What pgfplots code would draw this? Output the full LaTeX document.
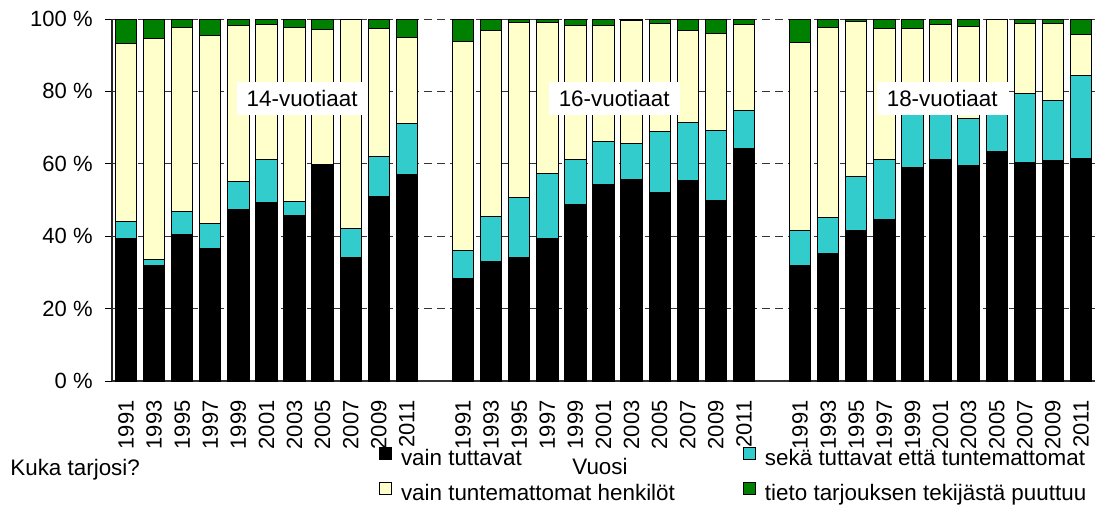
\documentclass[border=0pt]{standalone}
\usepackage{fontspec}
\setmainfont{Liberation Sans}
\usepackage{pgfplots}
\usepackage{pgfplotstable}
\pgfplotsset{compat=1.18}
\definecolor{cCyan}{RGB}{51,204,204}
\definecolor{cYellow}{RGB}{255,255,204}
\definecolor{cGreen}{RGB}{0,128,0}
\newcommand{\lf}{\fontsize{11.2}{13.5}\selectfont}
\newcommand{\tf}{\fontsize{11}{13}\selectfont}

% x: bar slot (groups 14 / 16 / 18 years, one empty slot between groups)
% b = vain tuttavat, c = seka, y = vain tuntemattomat, g = tieto puuttuu (%)
\pgfplotstableread{
x  b    c    y    g
0  39.5 4.6  49.2 6.7
1  32.0 1.6  60.9 5.5
2  40.6 6.1  51.0 2.3
3  36.5 6.9  52.0 4.6
4  47.5 7.6  43.0 1.9
5  49.4 11.7 37.5 1.4
6  45.8 3.9  48.0 2.3
7  59.9 0.0  37.1 3.0
8  34.0 8.2  57.8 0.0
9  51.0 11.0 35.5 2.5
10 57.0 14.1 23.8 5.1
12 28.2 7.8  57.8 6.2
13 33.0 12.5 51.3 3.2
14 34.2 16.6 48.3 0.9
15 39.5 17.7 41.8 1.0
16 48.7 12.4 37.0 1.9
17 54.3 11.9 32.1 1.7
18 55.7 9.9  34.0 0.4
19 52.0 16.8 29.9 1.3
20 55.4 15.9 25.6 3.1
21 49.8 19.5 26.8 3.9
22 64.1 10.7 23.8 1.4
24 31.8 9.8  51.9 6.5
25 35.3 9.9  52.5 2.3
26 41.7 14.7 42.9 0.7
27 44.7 16.6 36.2 2.5
28 58.9 16.1 22.3 2.7
29 61.3 14.2 23.1 1.4
30 59.6 13.0 25.3 2.1
31 63.3 12.3 24.4 0.0
32 60.4 18.9 19.4 1.3
33 61.0 16.4 21.3 1.3
34 61.6 22.8 11.2 4.4
}\data

\begin{document}
\begin{tikzpicture}
\begin{axis}[
  at={(0,0)}, anchor=south west,
  scale only axis, width=491.5pt, height=181pt,
  ybar stacked, bar width=0.76,
  xmin=-0.5, xmax=34.5, ymin=0, ymax=100,
  xtick={0,1,2,3,4,5,6,7,8,9,10,12,13,14,15,16,17,18,19,20,21,22,24,25,26,27,28,29,30,31,32,33,34},
  xticklabels={1991,1993,1995,1997,1999,2001,2003,2005,2007,2009,2011,
               1991,1993,1995,1997,1999,2001,2003,2005,2007,2009,2011,
               1991,1993,1995,1997,1999,2001,2003,2005,2007,2009,2011},
  ytick={0,20,...,100},
  yticklabel={\pgfmathprintnumber{\tick}~\%},
  /pgf/number format/assume math mode=true,
  axis x line*=bottom, axis y line*=left,
  x axis line style={-, gray!40!black, line width=1pt},
  y axis line style={-, gray!30!black, line width=0.6pt},
  tick align=outside, major tick length=3.5pt,
  major x tick style={draw=none},
  major y tick style={black, line width=0.5pt},
  tick label style={font=\tf},
  xticklabel style={rotate=90, anchor=east, inner sep=0pt, xshift=-6pt},
  yticklabel style={inner sep=0pt, xshift=-6pt},
  ymajorgrids, grid style={black!80, line width=0.5pt, dash pattern=on 4pt off 2.5pt},
  every axis plot/.append style={draw=black, line width=0.5pt},
  legend columns=2,
  legend image code/.code={\draw[#1] (0pt,0pt) rectangle (6pt,6pt);},
  legend style={draw=none, fill=none, font=\lf, inner sep=0pt, outer sep=0pt,
    at={(0,0)}, anchor=north west, xshift=133.5pt, yshift=-33pt,
    nodes={inner sep=0pt, text height=8pt, text depth=2.5pt},
    row sep=6pt,
    /tikz/every odd column/.append style={column sep=4.5pt}},
  legend cell align=left,
]
\addplot[fill=black] table[x=x, y=b] {\data};
\addlegendentry{\makebox[171pt][l]{vain tuttavat}}
\addplot[fill=cCyan] table[x=x, y=c] {\data};
\addlegendentry{sekä tuttavat että tuntemattomat}
\addplot[fill=cYellow] table[x=x, y=y] {\data};
\addlegendentry{\makebox[171pt][l]{vain tuntemattomat henkilöt}}
\addplot[fill=cGreen] table[x=x, y=g] {\data};
\addlegendentry{tieto tarjouksen tekijästä puuttuu}

\coordinate (g14) at (axis cs:6.27,78);
\coordinate (g16) at (axis cs:17.38,78);
\coordinate (g18) at (axis cs:29.06,78);
\end{axis}
\node[fill=white, font=\lf, inner xsep=5pt, inner ysep=4pt] at (g14) {14-vuotiaat};
\node[fill=white, font=\lf, inner xsep=5pt, inner ysep=4pt] at (g16) {16-vuotiaat};
\node[fill=white, font=\lf, inner xsep=5pt, inner ysep=4pt] at (g18) {18-vuotiaat};
\node[font=\lf, anchor=base, inner sep=0pt] at ([xshift=244pt, yshift=-46.5pt]current axis.south west) {Vuosi};
\node[font=\lf, anchor=base west, inner sep=0pt] at ([xshift=-51pt, yshift=-47pt]current axis.south west) {Kuka tarjosi?};
\pgfresetboundingbox
\path[use as bounding box] (-56pt,-62pt) rectangle (493.5pt,190.5pt);
\end{tikzpicture}
\end{document}
